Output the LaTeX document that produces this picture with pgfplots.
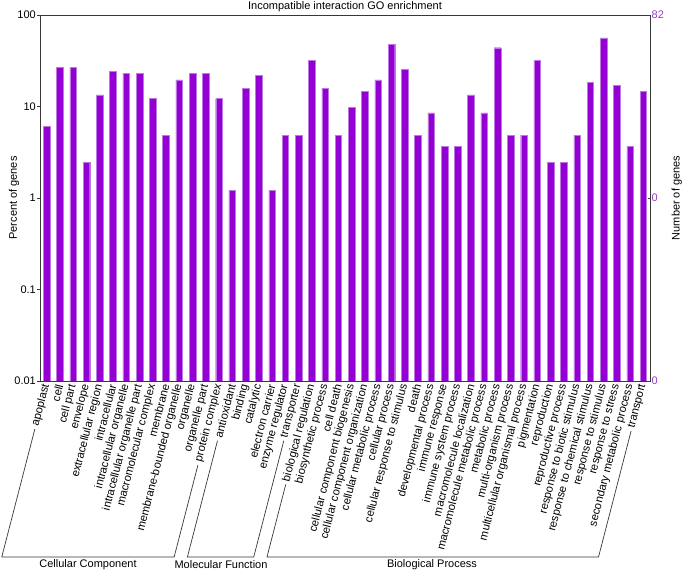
\documentclass[border=0pt]{standalone}
\usepackage{fontspec}
\setmainfont{Liberation Sans}
\usepackage{pgfplots}
\pgfplotsset{compat=1.18}
\usetikzlibrary{calc}
\definecolor{barc}{RGB}{148,0,211}
\definecolor{baredge}{RGB}{190,120,228}
\definecolor{numc}{RGB}{150,60,200}
\definecolor{axc}{RGB}{55,55,55}
\newcommand{\fs}{\fontsize{11bp}{13bp}\selectfont}
\newcommand{\fl}{\fontsize{11.3bp}{12.5bp}\selectfont}
\begin{document}
\begin{tikzpicture}
\useasboundingbox (-40bp,-193bp) rectangle (645bp,381bp);
\begin{axis}[
  name=main, at={(0,0)}, anchor=south west,
  scale only axis, width=610bp, height=366bp,
  ymode=log, ymin=0.01, ymax=100, log origin y=infty,
  xmin=-0.5, xmax=45.5,
  ybar, bar width=0.5,
  ytick={0.01,0.1,1,10,100}, yticklabels={0.01,0.1,1,10,100},
  yminorticks=false, ytick pos=left, tick align=outside,
  major tick length=2.5bp,
  tick style={axc, line width=0.6bp},
  axis line style={axc, line width=0.8bp},
  xtick={0,...,45},
  xtick style={draw=none},
  xticklabels={apoplast,cell,cell part,envelope,extracellular region,intracellular,intracellular organelle,intracellular organelle part,macromolecular complex,membrane,membrane-bounded organelle,organelle,organelle part,protein complex,antioxidant,binding,catalytic,electron carrier,enzyme regulator,transporter,biological regulation,biosynthetic process,cell death,cellular component biogenesis,cellular component organization,cellular metabolic process,cellular process,cellular response to stimulus,death,developmental process,immune response,immune system process,macromolecule localization,macromolecule metabolic process,metabolic process,multi-organism process,multicellular organismal process,pigmentation,reproduction,reproductive process,response to biotic stimulus,response to chemical stimulus,response to stimulus,response to stress,secondary metabolic process,transport},
  xticklabel style={rotate=75.5, anchor=east, font=\fl, inner sep=1pt, name=xl\ticknum},
  yticklabel style={font=\fs, inner sep=1.5bp},
  every axis title shift=0pt,
  title={Incompatible interaction GO enrichment},
  title style={at={(axis description cs:0.5,1)}, anchor=base, yshift=5.5bp, font=\fs, inner sep=0pt},
  ylabel={Percent of genes},
  every axis y label/.style={at={(axis description cs:-0.0426,0.5)}, rotate=90, anchor=center, font=\fs},
]
\addplot[fill=barc, draw=baredge, line width=0.4bp] coordinates {
(0,6.10) (1,26.83) (2,26.83) (3,2.44) (4,13.41) (5,24.39) (6,23.17) (7,23.17) (8,12.20) (9,4.88)
(10,19.51) (11,23.17) (12,23.17) (13,12.20) (14,1.22) (15,15.85) (16,21.95) (17,1.22) (18,4.88) (19,4.88)
(20,31.71) (21,15.85) (22,4.88) (23,9.76) (24,14.63) (25,19.51) (26,47.56) (27,25.61) (28,4.88) (29,8.54)
(30,3.66) (31,3.66) (32,13.41) (33,8.54) (34,43.90) (35,4.88) (36,4.88) (37,31.71) (38,2.44) (39,2.44)
(40,4.88) (41,18.29) (42,56.10) (43,17.07) (44,3.66) (45,14.63)
};
\end{axis}
\begin{axis}[
  at={(0,0)}, anchor=south west,
  scale only axis, width=610bp, height=366bp,
  ymode=log, ymin=0.01, ymax=100,
  xmin=-0.5, xmax=45.5,
  axis y line*=right,
  axis line style={axc, line width=0.8bp},
  tick style={axc, line width=0.6bp},
  xtick=\empty, minor xtick={-0.5,0.5,...,45.5},
  tick align=inside, minor tick length=3bp, major tick length=2.5bp,
  ytick={0.01,1,100}, yticklabels={0,0,82}, yminorticks=false,
  yticklabel style={text=numc, font=\fs, inner sep=1.5bp},
  ylabel={Number of genes},
  every axis y label/.style={at={(axis description cs:1.044,0.5)}, rotate=90, anchor=center, font=\fs},
]
\end{axis}
\coordinate (bl) at (0,-176bp);
\coordinate (br) at (10bp,-176bp);
\begin{scope}[axc, line width=0.7bp]
\draw ($(xl0.west)!-2bp!(xl0.east)$) -- (intersection of xl0.west--xl0.east and bl--br) -- (intersection of xl13.west--xl13.east and bl--br) -- ($(xl13.west)!-2bp!(xl13.east)$);
\draw ($(xl14.west)!-2bp!(xl14.east)$) -- (intersection of xl14.west--xl14.east and bl--br) -- (intersection of xl19.west--xl19.east and bl--br) -- ($(xl19.west)!-2bp!(xl19.east)$);
\draw ($(xl20.west)!-2bp!(xl20.east)$) -- (intersection of xl20.west--xl20.east and bl--br) -- (intersection of xl45.west--xl45.east and bl--br) -- ($(xl45.west)!-2bp!(xl45.east)$);
\end{scope}
\node[font=\fs] at (48bp,-184bp) {Cellular Component};
\node[font=\fs] at (181bp,-184bp) {Molecular Function};
\node[font=\fs] at (392bp,-184bp) {Biological Process};
\end{tikzpicture}
\end{document}
